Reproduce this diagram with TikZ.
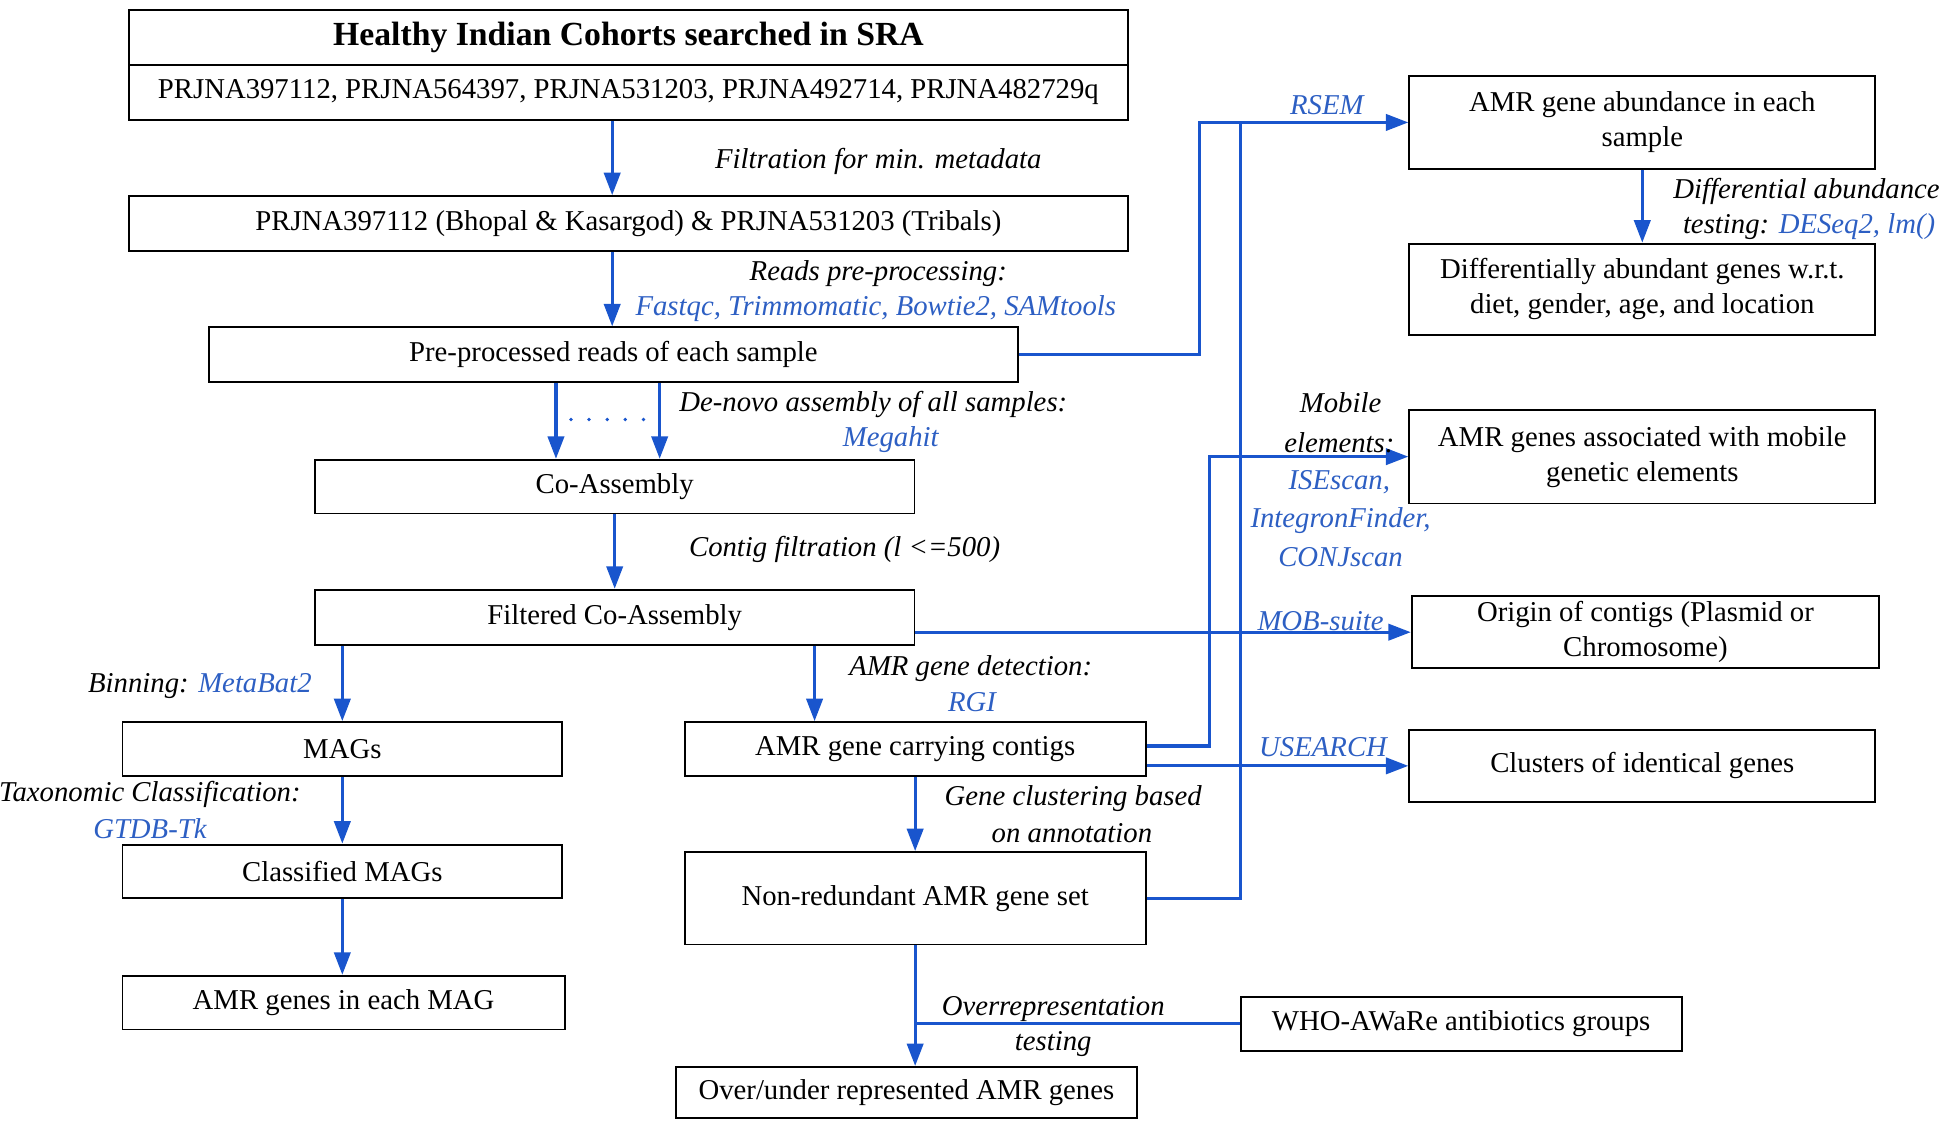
\documentclass[tikz,border=0pt]{standalone}
\usepackage{fontspec}
\setmainfont{Liberation Serif}
\usetikzlibrary{arrows.meta}
\definecolor{lineblue}{RGB}{25,85,205}
\definecolor{textblue}{RGB}{45,95,195}
\newcommand{\fsz}{\fontsize{23}{28}\selectfont}
\newcommand{\tb}[1]{\textcolor{textblue}{#1}}
\begin{document}
\begin{tikzpicture}[x=1pt,y=-1pt,
 box/.style={draw=black, line width=1.5pt, inner sep=0pt, align=center, font=\fsz},
 arr/.style={draw=lineblue, line width=2.6pt, -{Triangle[length=18pt,width=13pt]}},
 bl/.style={draw=lineblue, line width=2.6pt},
 lab/.style={font=\fsz\itshape, inner sep=0pt, align=center},
 tool/.style={lab, text=textblue}]
\useasboundingbox (0,0) rectangle (1560,896.5);
% left / centre column boxes
\node[box, minimum width=800pt, minimum height=44pt, font=\fontsize{27}{32}\selectfont\bfseries] (B1a) at (503,30) {Healthy Indian Cohorts searched in SRA};
\node[box, minimum width=800pt, minimum height=44pt] (B1b) at (503,74) {PRJNA397112, PRJNA564397, PRJNA531203, PRJNA492714, PRJNA482729q};
\node[box, minimum width=800pt, minimum height=44pt] (B2) at (503,179) {PRJNA397112 (Bhopal \& Kasargod) \& PRJNA531203 (Tribals)};
\node[box, minimum width=648pt, minimum height=44pt] (B3) at (491,284) {Pre-processed reads of each sample};
\node[box, minimum width=480pt, minimum height=43pt] (B4) at (492,389.5) {Co-Assembly};
\node[box, minimum width=480pt, minimum height=44pt] (B5) at (492,494) {Filtered Co-Assembly};
\node[box, minimum width=352pt, minimum height=43pt] (B6) at (274,599.5) {MAGs};
\node[box, minimum width=369pt, minimum height=43pt] (B7) at (732.5,599.5) {AMR gene carrying contigs};
\node[box, minimum width=352pt, minimum height=43pt] (B8) at (274,697.5) {Classified MAGs};
\node[box, minimum width=354pt, minimum height=43pt] (B9) at (275,802.5) {AMR genes in each MAG};
\node[box, minimum width=369pt, minimum height=74pt] (B10) at (732.5,719) {Non-redundant AMR gene set};
\node[box, minimum width=369pt, minimum height=41pt] (B11) at (725.5,874.5) {Over/under represented AMR genes};
% right column boxes
\node[box, minimum width=373pt, minimum height=74pt] (R1) at (1314.5,98) {AMR gene abundance in each\\sample};
\node[box, minimum width=373pt, minimum height=73pt] (R2) at (1314.5,231.5) {Differentially abundant genes w.r.t.\\diet, gender, age, and location};
\node[box, minimum width=373pt, minimum height=75pt] (R3) at (1314.5,365.5) {AMR genes associated with mobile\\genetic elements};
\node[box, minimum width=374pt, minimum height=58pt] (R4) at (1317,506) {Origin of contigs (Plasmid or\\Chromosome)};
\node[box, minimum width=373pt, minimum height=58pt] (R5) at (1314.5,613) {Clusters of identical genes};
\node[box, minimum width=353pt, minimum height=43pt] (R6) at (1169.5,819.5) {WHO-AWaRe antibiotics groups};
% junction coordinates
\coordinate (j1) at (960,98);
\coordinate (j2) at (993,98);
\coordinate (j3) at (968,365.5);
% connectors
\draw[arr] ([xshift=-13pt]B1b.south) -- ([xshift=-13pt]B1b.south |- B2.north);
\draw[arr] ([xshift=-13pt]B2.south) -- ([xshift=-13pt]B2.south |- B3.north);
\draw[arr] ([xshift=-46pt]B3.south) -- ([xshift=-46pt]B3.south |- B4.north);
\draw[arr] ([xshift=37pt]B3.south) -- ([xshift=37pt]B3.south |- B4.north);
\draw[draw=lineblue, line width=3pt, line cap=round, dash pattern=on 0pt off 14.5pt] ([xshift=-34pt,yshift=-29pt]B3.south) -- ([xshift=25pt,yshift=-29pt]B3.south);
\draw[arr] (B4.south) -- (B5.north);
\draw[arr] (B6.north |- B5.south) -- (B6.north);
\draw[arr] ([xshift=160pt]B5.south) -- ([xshift=160pt]B5.south |- B7.north);
\draw[arr] (B6.south) -- (B8.north);
\draw[arr] (B8.south) -- (B8.south |- B9.north);
\draw[arr] (B7.south) -- (B10.north);
\draw[arr] (B10.south) -- (B10.south |- B11.north);
\draw[bl] (R6.west) -- (R6.west -| B10.south);
\draw[arr] (R1.south) -- (R1.south |- R2.north);
\draw[arr] (B3.east) -| (j1) -- (R1.west);
\draw[bl] (B10.east) -| (j2);
\draw[arr] ([yshift=2.5pt]B7.east) -| (j3) -- (R3.west);
\draw[arr] (B5.east |- R4.west) -- (R4.west);
\draw[arr] (B7.east |- R5.west) -- (R5.west);
% labels
\node[lab] (l1) at (703,129) {Filtration for min. metadata};
\node[lab] (l2) at (703,219) {Reads pre-processing:};
\node[tool] (l3) at (701,247) {Fastqc, Trimmomatic, Bowtie2, SAMtools};
\node[lab] (l4) at (699,324) {De-novo assembly of all samples:};
\node[tool] (l5) at (713,352) {Megahit};
\node[lab] (l6) at (676,440) {Contig filtration (l <=500)};
\node[lab] (l7) at (160,549) {Binning: \tb{MetaBat2}};
\node[lab] (l8) at (777,535) {AMR gene detection:};
\node[tool] (l9) at (778,562) {RGI};
\node[lab] (l10) at (120,636) {Taxonomic Classification:};
\node[tool] (l11) at (120,663) {GTDB-Tk};
\node[lab] (l12) at (859,639) {Gene clustering based};
\node[lab] (l13) at (858,667) {on annotation};
\node[lab] (l14) at (843,808) {Overrepresentation};
\node[lab] (l15) at (843,836) {testing};
\node[tool] (l16) at (1062,84) {RSEM};
\node[lab] (l17) at (1446,153) {Differential abundance};
\node[lab] (l18) at (1448,181) {testing: \tb{DESeq2, lm()}};
\node[lab] (l19) at (1073,322) {Mobile};
\node[lab] (l20) at (1072,354) {elements:};
\node[tool] (l21) at (1072,386) {ISEscan,};
\node[tool] (l22) at (1073,417) {IntegronFinder,};
\node[tool] (l23) at (1073,446) {CONJscan};
\node[tool] (l24) at (1057,497) {MOB-suite};
\node[tool] (l25) at (1059,598) {USEARCH};
\end{tikzpicture}
\end{document}
